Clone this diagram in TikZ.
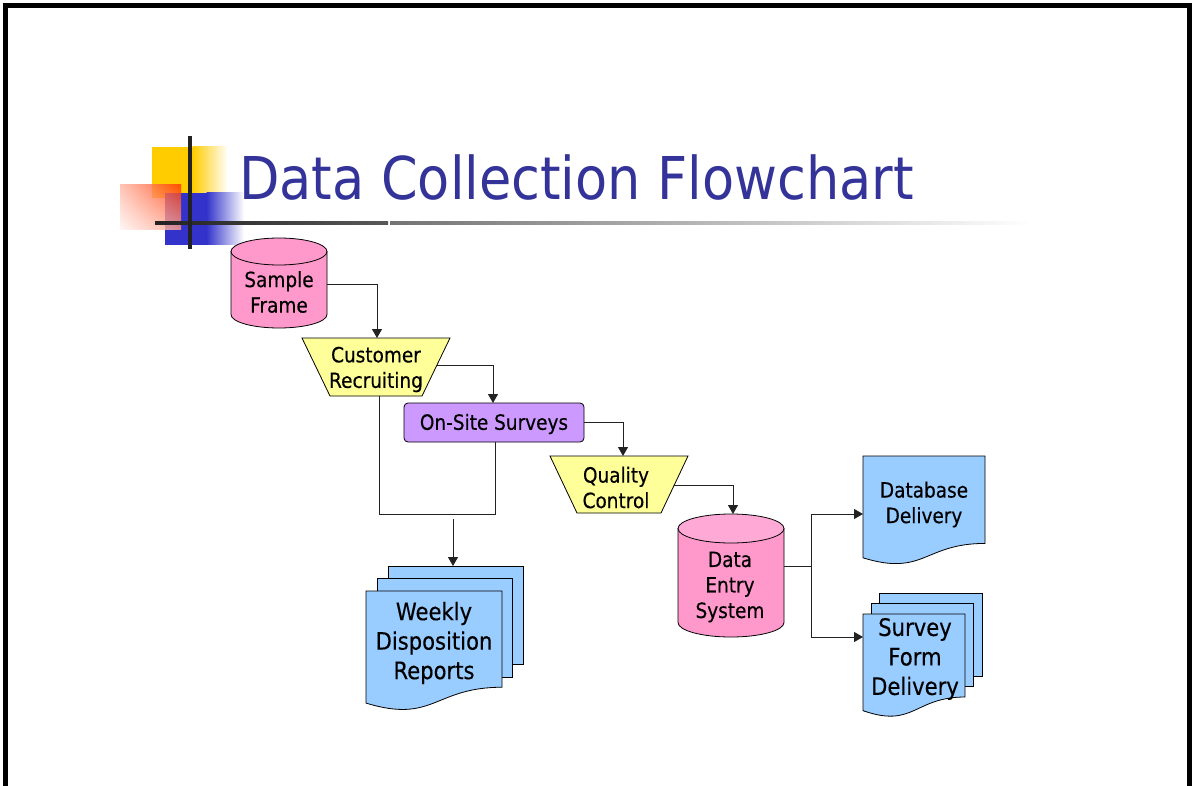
\documentclass[tikz,border=0pt]{standalone}
\usepackage{fontspec}
\setmainfont[FakeStretch=0.88,FakeBold=0.35]{DejaVu Sans}
\newfontfamily\titlefont[FakeStretch=0.89]{DejaVu Sans}
\usetikzlibrary{arrows.meta,shadings}
\definecolor{pinkfill}{HTML}{FF99CC}
\definecolor{pinktop}{HTML}{FFAAD6}
\definecolor{yelfill}{HTML}{FFFF99}
\definecolor{lavfill}{HTML}{CC99FF}
\definecolor{bluefill}{HTML}{99CCFF}
\definecolor{titleblue}{HTML}{333399}
\definecolor{decoyellow}{HTML}{FFCC00}
\definecolor{decoblue}{HTML}{3333CC}
\definecolor{decored}{HTML}{FF3300}
\definecolor{linegray}{HTML}{222222}
\newcommand\mydoc[5]{%
  \filldraw[shapeline,fill=#5] (#1,#2) -- ({#1+#3},#2) -- ({#1+#3},{#2+0.802*#4})
    .. controls ({#1+0.5*#3},{#2+0.802*#4}) and ({#1+0.5*#3},{#2+1.107*#4}) .. (#1,{#2+0.934*#4}) -- cycle;}
\newcommand\mycyl[7]{%
  \filldraw[shapeline,fill=#6] ({#1-#4},{#2+#5}) -- ({#1-#4},{#3-#5})
    .. controls ({#1-#4},{#3-0.448*#5}) and ({#1-0.552*#4},#3) .. (#1,#3)
    .. controls ({#1+0.552*#4},#3) and ({#1+#4},{#3-0.448*#5}) .. ({#1+#4},{#3-#5})
    -- ({#1+#4},{#2+#5}) -- cycle;
  \filldraw[shapeline,fill=#7] (#1,{#2+#5}) ellipse [x radius=#4pt, y radius=#5pt];}
\begin{document}
\begin{tikzpicture}[x=1pt,y=-1pt,
  shapeline/.style={draw=black,line width=0.8pt},
  conn/.style={draw=linegray,line width=0.9pt},
  arr/.style={conn,-{Triangle[length=9pt,width=10pt]}},
  lab/.style={font=\fontsize{21}{25.5}\selectfont,align=center,inner sep=0pt},
  labbig/.style={font=\fontsize{24}{29.5}\selectfont,align=center,inner sep=0pt}]
\useasboundingbox (0,0) rectangle (1193,786);
\fill[white] (0,0) rectangle (1193,786);
% frame
\draw[black,line width=5pt] (5.5,786) -- (5.5,5.5) -- (1189.5,5.5) -- (1189.5,786);
% title decoration
\fill[decoyellow] (152,147) rectangle (193,198);
\shade[left color=decoyellow,right color=white] (192.5,147) rectangle (228,198);
\fill[decoblue] (165,193) rectangle (207,245);
\shade[left color=decoblue,right color=white] (206.5,193) rectangle (244,245);
\shade[opacity=0.8,upper right=decored,upper left=decored!35,lower right=decored!45,lower left=decored!5] (120,185) rectangle (181,230);
\shade[left color=linegray,right color=black!65] (155,221.3) rectangle (388,225);
\shade[left color=black!55,right color=white] (390,221.3) rectangle (1032,225);
\fill[linegray] (188.3,136) rectangle (191.9,249);
\node[anchor=base west,inner sep=0pt,text=titleblue,font=\titlefont\fontsize{59}{70}\selectfont] (title) at (239,200) {Data Collection Flowchart};
% shapes
\mycyl{279}{238}{328}{48}{13.5}{pinkfill}{pinkfill}
\filldraw[shapeline,fill=yelfill] (302,338) -- (450,338) -- (422,396) -- (330,396) -- cycle;
\filldraw[shapeline,fill=lavfill,rounded corners=4pt] (404,403) rectangle (584,442);
\filldraw[shapeline,fill=yelfill] (550,456) -- (688,456) -- (661,513) -- (577,513) -- cycle;
\mycyl{731}{514}{637}{53}{14.5}{pinkfill}{pinktop}
\mydoc{863}{456}{122}{109}{bluefill}
\filldraw[shapeline,fill=bluefill] (388,566) rectangle (523,664);
\filldraw[shapeline,fill=bluefill] (377,578) rectangle (512,677);
\mydoc{366}{591}{136}{120}{bluefill}
\filldraw[shapeline,fill=bluefill] (879,593) rectangle (982,676);
\filldraw[shapeline,fill=bluefill] (871,603) rectangle (973,686);
\mydoc{863}{614}{102}{103.5}{bluefill}
% text
\node[lab] (sf) at (279,292) {Sample\\Frame};
\node[lab] (cr) at (376,369.5) {Customer\\Recruiting};
\node[lab] (os) at (494,424) {On-Site Surveys};
\node[lab] (qc) at (616,487.5) {Quality\\Control};
\node[lab] (de) at (730,587) {Data\\Entry\\System};
\node[lab] (db) at (924,504.5) {Database\\Delivery};
\node[labbig] (wr) at (434,643) {Weekly\\Disposition\\Reports};
\node[labbig] (sd) at (915,659) {Survey\\Form\\Delivery};
% connector anchors
\coordinate (sf-e) at (327,284);
\coordinate (cr-n) at (377,338);
\coordinate (cr-e) at (437,365);
\coordinate (os-n) at (493,403);
\coordinate (cr-s) at (379,396);
\coordinate (os-s) at (495,442);
\coordinate (join) at (495,514);
\coordinate (wr-src) at (453,519);
\coordinate (wr-n) at (453,566);
\coordinate (os-e) at (584,422);
\coordinate (qc-n) at (623,456);
\coordinate (qc-e) at (674,485);
\coordinate (de-n) at (733,514);
\coordinate (de-e) at (784,566);
\coordinate (split) at (811,566);
\coordinate (db-w) at (863,514);
\coordinate (sd-w) at (863,637);
% connectors
\draw[arr] (sf-e) -| (cr-n);
\draw[arr] (cr-e) -| (os-n);
\draw[conn] (cr-s) |- (join) -- (os-s);
\draw[arr] (wr-src) -- (wr-n);
\draw[arr] (os-e) -| (qc-n);
\draw[arr] (qc-e) -| (de-n);
\draw[conn] (de-e) -- (split);
\draw[arr] (split) |- (db-w);
\draw[arr] (split) |- (sd-w);
\end{tikzpicture}
\end{document}
